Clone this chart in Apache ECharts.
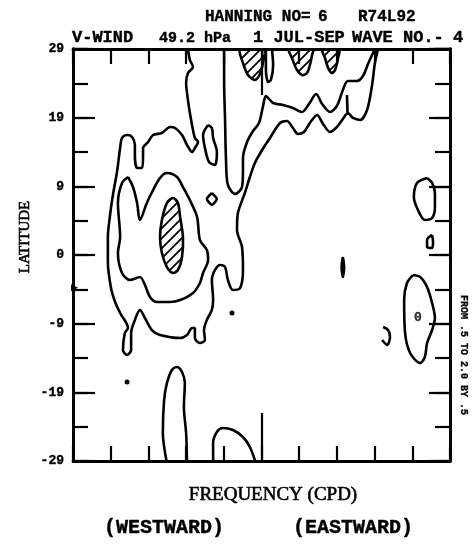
<!DOCTYPE html>
<html><head><meta charset="utf-8">
<script src="https://cdn.jsdelivr.net/npm/echarts@6/dist/echarts.min.js"></script>
<style>html,body{margin:0;padding:0;background:#fff}#c{width:474px;height:544px}</style>
</head><body><div id="c"></div>
<script>
// ---- tick labels ----
const xTickLabels = ['-0.6', '-0.3', '0.0', '0.3', '0.6'];
const xTickLabelAt = [-0.6, -0.41, 0.02, 0.365, 0.6];
const yTickLabels = ['-29', '-19', '-9', '0', '9', '19', '29'];

// ---- contour lines: [frequency (CPD), latitude] ----
const contourOuter = [
[-0.234,29.0],[-0.228,27.45],[-0.218,26.47],[-0.234,25.62],[-0.240,24.22],[-0.237,22.81],[-0.231,20.84],[-0.224,19.01],[-0.218,17.60],[-0.212,16.47],[-0.202,15.91],[-0.212,15.06],[-0.221,14.50],[-0.237,15.49],[-0.253,16.89],[-0.275,17.88],[-0.291,18.02],[-0.317,17.18],[-0.345,16.89],[-0.361,15.91],[-0.377,15.06],[-0.377,14.08],[-0.380,12.25],[-0.396,12.25],[-0.403,14.08],[-0.403,15.49],[-0.412,16.61],[-0.428,16.89],[-0.444,16.47],[-0.450,15.06],[-0.460,11.69],[-0.473,8.45],[-0.482,5.63],[-0.489,2.53],[-0.489,-0.99],[-0.479,-4.65],[-0.466,-6.62],[-0.450,-8.17],[-0.425,-10.28],[-0.435,-10.98],[-0.441,-13.38],[-0.428,-14.08],[-0.415,-13.38],[-0.415,-10.98],[-0.403,-9.15],[-0.387,-7.74],[-0.371,-8.87],[-0.349,-10.56],[-0.323,-11.26],[-0.259,-11.69],[-0.237,-11.26],[-0.221,-10.28],[-0.212,-10.28],[-0.212,-11.69],[-0.196,-12.39],[-0.180,-11.97],[-0.183,-10.56],[-0.174,-9.15],[-0.158,-7.74],[-0.154,-6.34],[-0.158,-3.52],[-0.148,-2.11],[-0.132,-1.41],[-0.116,-1.69],[-0.107,-3.52],[-0.091,-4.93],[-0.068,-4.65],[-0.059,-2.11],[-0.062,1.13],[-0.078,3.52],[-0.075,5.91],[-0.053,8.73],[-0.037,10.98],[-0.021,12.95],[0.002,14.78],[0.027,16.47],[0.059,18.58],[0.081,18.87],[0.100,17.88],[0.116,17.04],[0.135,17.32],[0.154,18.58],[0.177,19.71],[0.196,18.44],[0.218,17.32],[0.240,18.02],[0.259,19.15],[0.275,19.99],[0.291,19.29],[0.314,19.01],[0.336,20.41],[0.352,23.93],[0.361,27.03],[0.371,29.0]
];
const contourU = [
[-0.119,29.0],[-0.119,24.64],[-0.116,19.01],[-0.113,13.38],[-0.107,9.86],[-0.084,8.59],[-0.062,9.57],[-0.059,11.97],[-0.059,13.66],[-0.046,15.91],[-0.027,17.46],[-0.008,18.58],[0.005,20.98],[0.014,22.39],[0.037,21.40],[0.068,21.12],[0.100,20.70],[0.129,20.13],[0.151,21.26],[0.174,22.67],[0.193,21.26],[0.218,20.13],[0.240,20.98],[0.259,23.23],[0.275,24.50],[0.304,24.50],[0.323,25.20],[0.339,26.89],[0.355,28.44],[0.362,29.0]
];
const contourInner = [
[-0.425,10.98],[-0.444,10.14],[-0.457,7.32],[-0.450,2.53],[-0.457,0.28],[-0.444,-2.53],[-0.419,-3.52],[-0.387,-3.10],[-0.371,-4.22],[-0.355,-5.91],[-0.333,-6.62],[-0.291,-6.62],[-0.259,-6.34],[-0.218,-5.35],[-0.196,-3.94],[-0.186,-2.53],[-0.170,-0.70],[-0.174,0.70],[-0.196,2.11],[-0.205,5.35],[-0.228,7.74],[-0.250,9.57],[-0.269,10.98],[-0.301,11.54],[-0.323,10.84],[-0.345,9.15],[-0.365,7.32],[-0.387,4.93],[-0.396,7.32],[-0.409,9.57]
];
const loopNorth = [[-0.170,18.30],[-0.186,16.89],[-0.180,15.06],[-0.167,13.09],[-0.148,12.67],[-0.142,14.50],[-0.154,16.47],[-0.158,17.88]];
const loopDiamond = [[-0.158,8.73],[-0.142,7.88],[-0.158,7.04],[-0.174,7.88]];
const loopSouthTall = [[-0.301,-29.3],[-0.314,-25.06],[-0.310,-20.41],[-0.301,-18.02],[-0.285,-16.19],[-0.269,-15.77],[-0.253,-16.47],[-0.244,-18.02],[-0.247,-21.40],[-0.240,-25.06],[-0.237,-29.3]];
const archSouth = [[-0.154,-29.3],[-0.154,-26.47],[-0.142,-24.92],[-0.123,-24.36],[-0.091,-24.64],[-0.059,-25.62],[-0.037,-27.03],[-0.018,-29.3]];
const loopEast1 = [[0.527,10.84],[0.495,10.14],[0.485,8.17],[0.498,6.34],[0.520,4.93],[0.543,5.21],[0.552,6.76],[0.552,8.73],[0.543,10.14]];
const loopEast2 = [[0.543,2.82],[0.527,2.11],[0.527,1.13],[0.543,0.99],[0.546,1.83]];
const loopEast3 = [[0.482,-2.82],[0.463,-3.94],[0.454,-6.34],[0.457,-10.98],[0.473,-13.80],[0.505,-15.21],[0.520,-14.36],[0.527,-12.39],[0.543,-10.56],[0.552,-8.87],[0.543,-6.76],[0.527,-4.51],[0.505,-3.10]];
const loopEast4 = [[0.387,-10.14],[0.403,-10.56],[0.409,-11.54],[0.400,-12.67],[0.384,-11.97]];
const loopThin = [[0.259,-0.28],[0.263,-1.69],[0.259,-3.10],[0.255,-1.69]];
const segmentTop = [[0.272,22.53],[0.274,19.71]];
const loopTopZero = [[0.014,29.0],[0.014,26.05],[0.021,24.36],[0.030,24.64],[0.037,26.75],[0.033,29.0]];
const hatchCentre = [[-0.282,8.03],[-0.301,7.32],[-0.317,4.93],[-0.323,2.53],[-0.317,0.28],[-0.301,-1.69],[-0.282,-2.53],[-0.266,-2.11],[-0.253,-0.28],[-0.250,2.53],[-0.259,5.35],[-0.266,7.32]];
const hatchTop1 = [[-0.068,29.0],[-0.059,27.03],[-0.043,25.34],[-0.021,24.64],[-0.005,25.48],[0.005,27.17],[0.008,29.0]];
const hatchTop2 = [[0.088,29.0],[0.097,27.74],[0.113,26.05],[0.129,25.34],[0.145,25.62],[0.154,26.75],[0.161,28.16],[0.164,29.0]];
const hatchTop3 = [[0.193,29.0],[0.202,27.74],[0.212,26.33],[0.224,25.62],[0.234,26.05],[0.244,27.74],[0.247,29.0]];
const smallBlobs = [[-0.428,-17.88],[-0.094,-8.17]];
const minimumLabel = [[0.498,-8.87]];
const axisMarker = [[-0.595,-4.6]];

// ---- chart ----
const chart = echarts.init(document.getElementById('c'), null, {renderer: 'canvas'});
const pc = document.createElement('canvas');
pc.width = 10; pc.height = 10;
const g = pc.getContext('2d');
g.strokeStyle = '#000'; g.lineWidth = 1.8;
g.beginPath();
g.moveTo(0, 10); g.lineTo(10, 0);
g.moveTo(-2, 2); g.lineTo(2, -2);
g.moveTo(8, 12); g.lineTo(12, 8);
g.stroke();
const hatchFill = {image: pc, repeat: 'repeat'};

const INK = '#000';
const LW = 2.6;
const close = a => a.concat([a[0]]);
function lineS(data, extra) {
  return Object.assign({type: 'line', data: data, symbol: 'none', smooth: 0.3, clip: true,
    lineStyle: {color: INK, width: LW}, silent: true, animation: false, z: 3}, extra || {});
}
function hatchS(pts) {
  return {type: 'custom', data: pts, clip: true, animation: false, silent: true, z: 4,
    encode: {x: 0, y: 1},
    renderItem: function (params, api) {
      if (params.dataIndex !== 0) return null;
      return {type: 'polygon', shape: {points: pts.map(p => api.coord(p)), smooth: 0.3},
        style: {fill: hatchFill, stroke: INK, lineWidth: LW}};
    }};
}
function xAx(pos, tick, label, line) {
  return {type: 'value', min: -0.6, max: 0.6, interval: 0.12, position: pos,
    axisLine: {show: line !== false, onZero: false, lineStyle: {color: INK, width: 2.8}},
    splitLine: {show: false}, axisTick: tick, axisLabel: label || {show: false}};
}
function yAx(pos, interval, len, label) {
  return {type: 'value', min: -29, max: 29, interval: interval, position: pos,
    axisLine: {show: true, onZero: false, lineStyle: {color: INK, width: 2.8}},
    splitLine: {show: false},
    axisTick: {inside: true, length: len, lineStyle: {color: INK, width: 2.2}},
    axisLabel: label || {show: false}};
}
const monoBold = {fontFamily: '"Liberation Mono", monospace', fontWeight: 'bold', color: INK,
  textBorderColor: INK, textBorderWidth: 0.4};

function txt(t, x, y, size, opts) {
  opts = opts || {};
  return {type: 'text', x: x, y: y, rotation: opts.rot || 0, silent: true,
    style: {text: t, fill: INK, stroke: INK, lineWidth: opts.stroke == null ? 0.4 : opts.stroke,
      fontSize: size, fontFamily: opts.family || '"Liberation Mono", monospace',
      fontWeight: opts.weight || 'bold', align: opts.align || 'left', verticalAlign: 'middle',
      textAlign: opts.align || 'left', textVerticalAlign: 'middle'}};
}

chart.setOption({
  backgroundColor: '#fff',
  animation: false,
  grid: {left: 73, top: 49, right: 24, bottom: 83, containLabel: false},
  xAxis: [
    xAx('bottom', {inside: true, length: 15, lineStyle: {color: INK, width: 2.2}},
      Object.assign({show: true, customValues: xTickLabelAt, margin: 4, fontSize: 13,
        formatter: (v, i) => xTickLabels[i]}, monoBold)),
    xAx('top', {inside: true, length: 15, lineStyle: {color: INK, width: 2.2}}),
    xAx('bottom', {inside: true, length: 48, customValues: [0], lineStyle: {color: INK, width: 2.2}}, null, false),
    xAx('top', {inside: true, length: 46, customValues: [0], lineStyle: {color: INK, width: 2.2}}, null, false)
  ],
  yAxis: [
    yAx('left', 29 / 3, 22, Object.assign({show: true, margin: 9, fontSize: 13,
      formatter: v => yTickLabels[Math.round((v + 29) / (29 / 3))]}, monoBold)),
    yAx('left', 29 / 6, 15),
    yAx('right', 29 / 3, 21),
    yAx('right', 29 / 6, 15)
  ],
  series: [
    lineS(contourOuter),
    lineS(contourU),
    lineS(close(contourInner)),
    lineS(close(loopNorth)),
    lineS(close(loopDiamond), {smooth: 0.2}),
    lineS(loopSouthTall),
    lineS(archSouth),
    lineS(close(loopEast1)),
    lineS(close(loopEast2)),
    lineS(close(loopEast3)),
    lineS(loopEast4),
    lineS(close(loopThin)),
    lineS(segmentTop),
    lineS(loopTopZero),
    hatchS(hatchCentre),
    hatchS(hatchTop1),
    hatchS(hatchTop2),
    hatchS(hatchTop3),
    {type: 'scatter', data: smallBlobs, symbol: 'circle', symbolSize: 5, itemStyle: {color: INK, opacity: 1}, silent: true, z: 5},
    {type: 'scatter', data: axisMarker, symbol: 'triangle', symbolRotate: -90, symbolSize: 7, itemStyle: {color: INK, opacity: 1}, silent: true, z: 5},
    {type: 'scatter', data: minimumLabel, symbolSize: 0, silent: true, z: 5,
      label: Object.assign({show: true, position: 'inside', formatter: '0', fontSize: 13}, monoBold)}
  ],
  graphic: [
    txt('HANNING NO=', 205, 17, 16),
    txt('6', 318, 17, 16),
    txt('R74L92', 358, 17, 16),
    txt('V-WIND', 72, 38, 17),
    txt('49.2 hPa', 159, 38, 15),
    txt('1 JUL-SEP', 253, 38, 17),
    txt('WAVE NO.-', 352, 38, 17),
    txt('4', 453, 38, 17),
    txt('LATITUDE', 25, 237, 15, {rot: Math.PI / 2, align: 'center', family: '"Liberation Serif", serif', weight: 'normal', stroke: 0.6}),
    txt('FREQUENCY (CPD)', 273, 495, 19, {align: 'center', family: '"Liberation Serif", serif', weight: 'normal', stroke: 0.6}),
    txt('(WESTWARD)', 164, 528, 20, {align: 'center'}),
    txt('(EASTWARD)', 353, 528, 20, {align: 'center'}),
    txt('FROM .5 TO 2.0 BY .5', 464, 355, 10, {rot: -Math.PI / 2, align: 'center', stroke: 0.3})
  ]
});
</script>
</body></html>
